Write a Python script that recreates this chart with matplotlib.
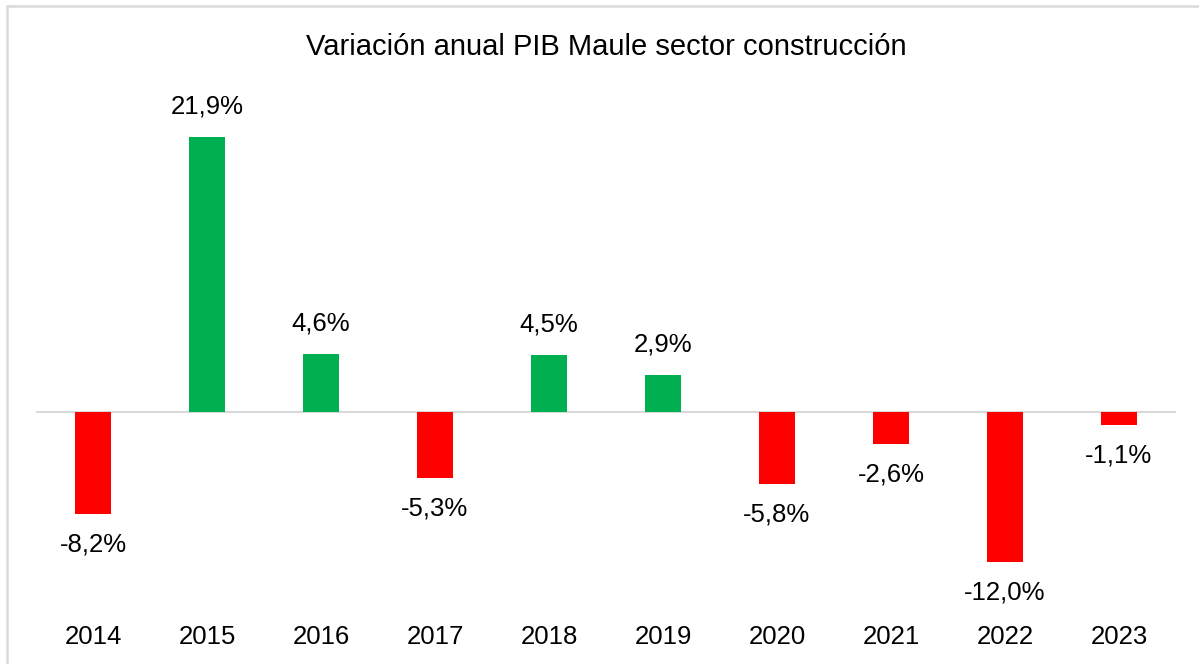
import matplotlib.pyplot as plt
from matplotlib.patches import Rectangle

plt.rcParams['font.family'] = ['Liberation Sans Narrow', 'Liberation Sans', 'DejaVu Sans']

# Data
years = ['2014', '2015', '2016', '2017', '2018', '2019', '2020', '2021', '2022', '2023']
variation = [-8.2, 21.9, 4.6, -5.3, 4.5, 2.9, -5.8, -2.6, -12.0, -1.1]
labels = ['-8,2%', '21,9%', '4,6%', '-5,3%', '4,5%', '2,9%', '-5,8%', '-2,6%', '-12,0%', '-1,1%']

green = '#00B050'
red = '#FF0000'
colors = [green if v >= 0 else red for v in variation]

fig = plt.figure(figsize=(11.99, 6.64), dpi=100)
ax = fig.add_axes([36 / 1199, 1 - 617 / 664, (1176 - 36) / 1199, (617 - 100) / 664])

x = range(len(years))
ax.bar(x, variation, width=0.316, color=colors, zorder=2)
ax.axhline(0, color='#D9D9D9', lw=1.5, zorder=1)

for i, (v, lab) in enumerate(zip(variation, labels)):
    off = 22 if v >= 0 else -22
    ax.annotate(lab, (i, v), xytext=(0, off), textcoords='offset points',
                ha='center', va='center', fontsize=18.5, color='black')

ax.set_xlim(-0.5, 9.5)
ax.set_ylim(-16.40, 24.86)
ax.set_xticks(list(x))
ax.set_xticklabels(years, fontsize=18.5)
ax.set_yticks([])
ax.tick_params(axis='x', length=0, pad=6)
for s in ax.spines.values():
    s.set_visible(False)

fig.text(606 / 1199, 1 - 47 / 664, 'Variación anual PIB Maule sector construcción',
         ha='center', va='center', fontsize=21)

# outer chart border (only top and left visible in the crop)
fig.patches.append(Rectangle((7 / 1199, -0.1), 1.2, 1 - 6 / 664 + 0.1,
                             transform=fig.transFigure, fill=False,
                             edgecolor='#D9D9D9', lw=1.8))

fig.savefig('out.png', dpi=100)
